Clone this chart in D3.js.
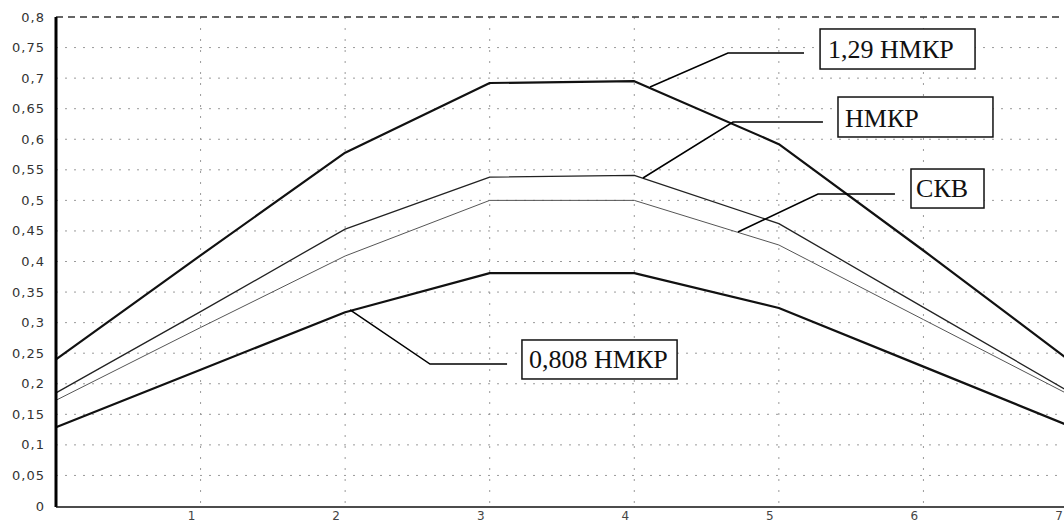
<!DOCTYPE html>
<html>
<head>
<meta charset="utf-8">
<script src="https://cdn.jsdelivr.net/npm/d3@7"></script>
<style>
  html, body { margin: 0; padding: 0; background: #fff; }
  svg { display: block; }
</style>
</head>
<body>
<svg id="chart" width="1064" height="524"></svg>
<script>
// ---- data ----
const xValues = [0, 1, 2, 3, 4, 5, 6, 7];
const xTickLabels = ["1", "2", "3", "4", "5", "6", "7"];
const xTickValues = [1, 2, 3, 4, 5, 6, 7];
const yTickValues = [0, 0.05, 0.1, 0.15, 0.2, 0.25, 0.3, 0.35, 0.4, 0.45, 0.5, 0.55, 0.6, 0.65, 0.7, 0.75, 0.8];

const series129 = [0.240, 0.410, 0.578, 0.692, 0.695, 0.592, 0.418, 0.240];
const seriesNMKR = [0.185, 0.318, 0.453, 0.538, 0.541, 0.462, 0.325, 0.188];
const seriesSKV  = [0.173, 0.292, 0.409, 0.500, 0.500, 0.427, 0.305, 0.183];
const series0808 = [0.129, 0.223, 0.317, 0.381, 0.381, 0.324, 0.228, 0.132];

const seriesNames = ["1,29 НМКР", "НМКР", "СКВ", "0,808 НМКР"];

// annotation callouts (data coordinates)
const calloutStart = [[4.109, 0.6855], [4.060, 0.5366], [4.717, 0.4483], [2.034, 0.3207]];
const calloutElbow = [[4.648, 0.7411], [4.683, 0.6282], [5.271, 0.5104], [2.587, 0.2323]];
const calloutEndX  = [5.174, 5.305, 5.803, 3.120];
const calloutBox   = [[5.285, 0.7804, 6.357, 0.7149], [5.409, 0.6691, 6.481, 0.6037],
                      [5.914, 0.5513, 6.419, 0.4875], [3.223, 0.2716, 4.296, 0.2078]];
const calloutText  = [[5.340, 0.7329], [5.458, 0.6200], [5.949, 0.5055], [3.272, 0.2258]];

// ---- drawing ----
const svg = d3.select("#chart");
const x = d3.scaleLinear().domain([0, 7]).range([56, 1068]);
const y = d3.scaleLinear().domain([0, 0.8]).range([506, 17]);
const fmt = v => d3.format(".2~f")(v).replace(".", ",");

// horizontal grid
svg.append("g").selectAll("line").data(yTickValues.filter(v => v > 0 && v < 0.8)).join("line")
  .attr("x1", x(0)).attr("x2", 1064)
  .attr("y1", d => y(d)).attr("y2", d => y(d))
  .attr("stroke", "#9a9a9a").attr("stroke-width", 1)
  .attr("stroke-dasharray", "2,7");

// vertical grid
svg.append("g").selectAll("line").data(xTickValues).join("line")
  .attr("x1", d => x(d)).attr("x2", d => x(d))
  .attr("y1", y(0.8)).attr("y2", y(0))
  .attr("stroke", "#9a9a9a").attr("stroke-width", 1)
  .attr("stroke-dasharray", "2,9");

// top dashed border
svg.append("line")
  .attr("x1", x(0)).attr("x2", 1064)
  .attr("y1", y(0.8)).attr("y2", y(0.8))
  .attr("stroke", "#333").attr("stroke-width", 1.5)
  .attr("stroke-dasharray", "7,5");

// y axis labels
svg.append("g").selectAll("text").data(yTickValues).join("text")
  .attr("x", 45).attr("y", d => y(d))
  .attr("dy", "0.35em")
  .attr("text-anchor", "end")
  .attr("font-family", "DejaVu Sans, sans-serif")
  .attr("font-size", 13)
  .attr("letter-spacing", 1)
  .attr("fill", "#333")
  .text(d => fmt(d));

// x axis labels
svg.append("g").selectAll("text").data(xTickValues).join("text")
  .attr("x", d => x(d) - 9).attr("y", 524 - 4)
  .attr("text-anchor", "middle")
  .attr("font-family", "DejaVu Sans, sans-serif")
  .attr("font-size", 12)
  .attr("fill", "#444")
  .text((d, i) => xTickLabels[i]);

// series lines
const line = d3.line().x((d, i) => x(xValues[i])).y(d => y(d));
const seriesList = [series129, seriesNMKR, seriesSKV, series0808];
const widths = [2.2, 1.3, 1.0, 2.2];
const colors = ["#111", "#222", "#555", "#111"];
svg.append("g").selectAll("path").data(seriesList).join("path")
  .attr("d", d => line(d))
  .attr("fill", "none")
  .attr("stroke", (d, i) => colors[i])
  .attr("stroke-width", (d, i) => widths[i])
  .attr("stroke-linejoin", "round");

// axes lines
svg.append("line")
  .attr("x1", x(0)).attr("x2", x(0))
  .attr("y1", y(0.8)).attr("y2", y(0) + 1)
  .attr("stroke", "#000").attr("stroke-width", 3);
svg.append("line")
  .attr("x1", x(0)).attr("x2", 1064)
  .attr("y1", y(0) + 1).attr("y2", y(0) + 1)
  .attr("stroke", "#111").attr("stroke-width", 1.6);

// callouts
const cg = svg.append("g");
seriesNames.forEach((name, i) => {
  const s = calloutStart[i], e = calloutElbow[i];
  cg.append("polyline")
    .attr("points", [[x(s[0]), y(s[1])], [x(e[0]), y(e[1])], [x(calloutEndX[i]), y(e[1])]].map(p => p.join(",")).join(" "))
    .attr("fill", "none").attr("stroke", "#000").attr("stroke-width", 1.5);
  const b = calloutBox[i];
  cg.append("rect")
    .attr("x", x(b[0])).attr("y", y(b[1]))
    .attr("width", x(b[2]) - x(b[0])).attr("height", y(b[3]) - y(b[1]))
    .attr("fill", "#fff").attr("stroke", "#111").attr("stroke-width", 1.5);
  cg.append("text")
    .attr("x", x(calloutText[i][0])).attr("y", y(calloutText[i][1]))
    .attr("font-family", "Liberation Serif, Times New Roman, serif")
    .attr("font-size", 26)
    .attr("fill", "#111")
    .text(name);
});
</script>
</body>
</html>
